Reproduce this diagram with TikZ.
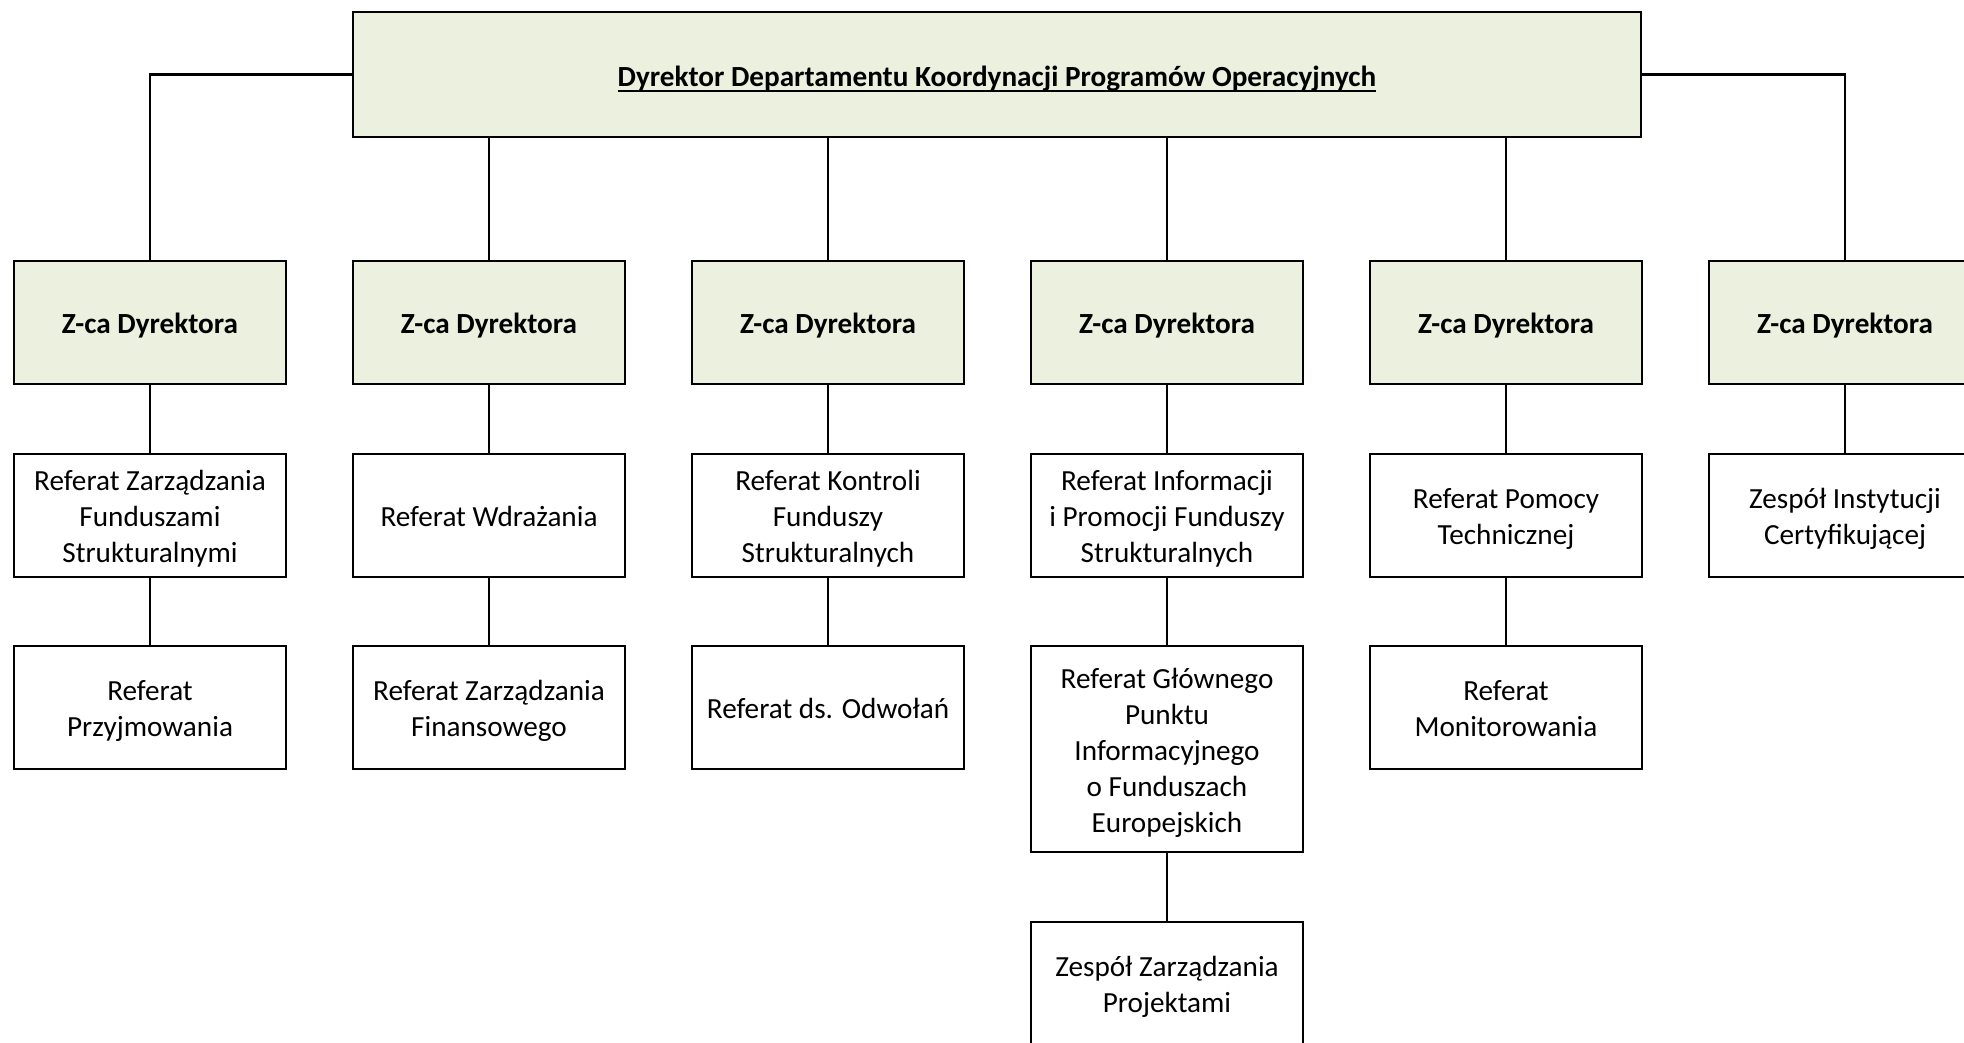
\documentclass[tikz,border=0pt]{standalone}
\usepackage{fontspec}
\setmainfont{Carlito}
\definecolor{boxgreen}{HTML}{EBF1DE}
\newsavebox{\ulbox}
\newcommand{\ulinetext}[1]{\sbox{\ulbox}{#1}\rlap{\rule[-2.6pt]{\wd\ulbox}{0.7pt}}\usebox{\ulbox}}
\newcommand{\fstrut}{\rule{0pt}{16.2pt}}
\begin{document}
\begin{tikzpicture}[x=0.5pt,y=-0.5pt,
  every node/.style={font=\fontsize{14.6pt}{17.95pt}\selectfont},
  unit/.style={draw=black, line width=1.2pt, align=center, inner sep=0pt,
    minimum width=136pt, minimum height=61.5pt,
    execute at end node={\rule[-5pt]{0pt}{5pt}}},
  head/.style={unit, fill=boxgreen, font=\fontsize{14.6pt}{17.95pt}\selectfont\bfseries},
  link/.style={line width=1.2pt}]
\clip (0,0) rectangle (1964,1043);
\fill[white] (0,0) rectangle (1964,1043);

\node[head, minimum width=644pt, minimum height=62.5pt] (dir) at (997,74.5)
  {\rule{0pt}{17pt}\ulinetext{Dyrektor Departamentu Koordynacji Programów Operacyjnych}};

\foreach \i/\x in {1/150,2/489,3/828,4/1167,5/1506,6/1845}
  \node[head] (z\i) at (\x,322.5) {\fstrut Z-ca Dyrektora};

\node[unit] (r1) at (150,515.5) {\fstrut Referat Zarządzania\\Funduszami\\Strukturalnymi};
\node[unit] (r2) at (489,515.5) {\fstrut Referat Wdrażania};
\node[unit] (r3) at (828,515.5) {\fstrut Referat Kontroli\\Funduszy\\Strukturalnych};
\node[unit] (r4) at (1167,515.5) {\fstrut Referat Informacji\\i Promocji Funduszy\\Strukturalnych};
\node[unit] (r5) at (1506,515.5) {\fstrut Referat Pomocy\\Technicznej};
\node[unit] (r6) at (1845,515.5) {\fstrut Zespół Instytucji\\Certyfikującej};

\node[unit] (s1) at (150,707.5) {\fstrut Referat\\Przyjmowania};
\node[unit] (s2) at (489,707.5) {\fstrut Referat Zarządzania\\Finansowego};
\node[unit] (s3) at (828,707.5) {\fstrut Referat ds. Odwołań};
\node[unit, minimum height=103pt] (s4) at (1167,749)
  {\fstrut Referat Głównego\\Punktu\\Informacyjnego\\o Funduszach\\Europejskich};
\node[unit] (s5) at (1506,707.5) {\fstrut Referat\\Monitorowania};

\node[unit] (t4) at (1167,983.5) {\fstrut Zespół Zarządzania\\Projektami};

\draw[link] (dir.west) -| (z1.north);
\draw[link] (dir.east) -| (z6.north);
\foreach \i in {2,3,4,5}
  \draw[link] (z\i.north) -- (z\i.north |- dir.south);
\foreach \i in {1,...,6}
  \draw[link] (z\i.south) -- (r\i.north);
\foreach \i in {1,...,5}
  \draw[link] (r\i.south) -- (s\i.north);
\draw[link] (s4.south) -- (t4.north);
\end{tikzpicture}
\end{document}
